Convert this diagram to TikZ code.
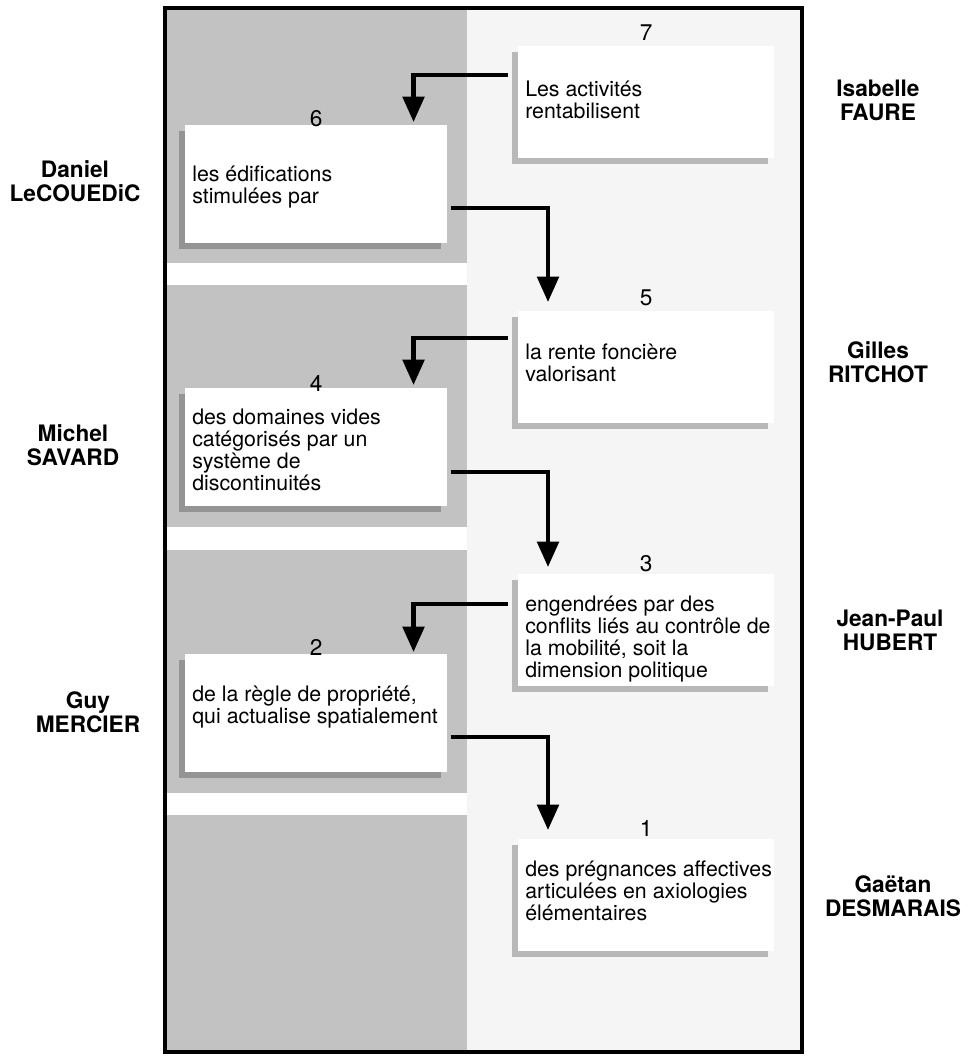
\documentclass[tikz,border=0pt]{standalone}
\usepackage{fontspec}
\setmainfont{TeX Gyre Heros}
\usetikzlibrary{calc,positioning,arrows.meta,shadows}

\begin{document}
\begin{tikzpicture}[x=0.75pt,y=-0.75pt,>={Triangle[width=16pt,length=19pt]},
    band/.style={fill=black!24},
    lbox/.style={anchor=north west,fill=white,minimum width=196.5pt,minimum height=88.5pt,inner sep=0,
      drop shadow={shadow xshift=-4.5pt,shadow yshift=-4.5pt,fill=black!42,opacity=1}},
    rbox/.style={anchor=north west,fill=white,minimum width=192pt,minimum height=84pt,inner sep=0,
      drop shadow={shadow xshift=-4.5pt,shadow yshift=-4.5pt,fill=black!28,opacity=1}},
    txt/.style={anchor=north west,align=left,inner sep=0,font=\fontsize{16}{16.5}\selectfont},
    num/.style={anchor=base,inner sep=0,font=\fontsize{17}{18}\selectfont},
    who/.style={align=center,inner sep=0,font=\bfseries\fontsize{17}{18}\selectfont},
    flow/.style={->,line width=3.2pt}]
  \useasboundingbox (0,0) rectangle (967,1056);
  \fill[black!4] (467,8) rectangle (802,1052);
  \fill[band] (165,8) rectangle (467,263);
  \fill[band] (165,285) rectangle (467,527);
  \fill[band] (165,550) rectangle (467,793);
  \fill[band] (165,815) rectangle (467,1052);

  \node[rbox] (b7) at (518,46) {};
  \node[lbox] (b6) at (185,125) {};
  \node[rbox] (b5) at (518,311) {};
  \node[lbox] (b4) at (185,388) {};
  \node[rbox] (b3) at (518,574) {};
  \node[lbox] (b2) at (185,654) {};
  \node[rbox] (b1) at (518,839) {};

  \node[num] (n7) at ($(b7.north)+(0,-5)$) {7};
  \node[num] (n6) at ($(b6.north)+(0,1)$) {6};
  \node[num] (n5) at ($(b5.north)+(0,-6)$) {5};
  \node[num] (n4) at ($(b4.north)+(0,3)$) {4};
  \node[num] (n3) at ($(b3.north)+(0,-3)$) {3};
  \node[num] (n2) at ($(b2.north)+(0,1)$) {2};
  \node[num] (n1) at ($(b1.north)+(0,-3)$) {1};

  \node[txt] (t7) at ($(b7.north west)+(7,35)$) {Les activités\\rentabilisent};
  \node[txt] (t6) at ($(b6.north west)+(7,41)$) {les édifications\\stimulées par};
  \node[txt] (t5) at ($(b5.north west)+(7,33)$) {la rente foncière\\valorisant};
  \node[txt] (t4) at ($(b4.north west)+(7,21)$) {des domaines vides\\catégorisés par un\\système de\\discontinuités};
  \node[txt] (t3) at ($(b3.north west)+(7,22)$) {engendrées par des\\conflits liés au contrôle de\\la mobilité, soit la\\dimension politique};
  \node[txt] (t2) at ($(b2.north west)+(7,32)$) {de la règle de propriété,\\qui actualise spatialement};
  \node[txt] (t1) at ($(b1.north west)+(7,22)$) {des prégnances affectives\\articulées en axiologies\\élémentaires};

  \draw[flow] ($(b7.north west)+(-10,29)$) -| ($(b6.north east)+(-34,-3)$);
  \draw[flow] ($(b6.north east)+(3,83)$) -| ($(b5.north west)+(30,-9)$);
  \draw[flow] ($(b5.north west)+(-10,27)$) -| ($(b4.north east)+(-34,-3)$);
  \draw[flow] ($(b4.north east)+(3,84)$) -| ($(b3.north west)+(30,-7)$);
  \draw[flow] ($(b3.north west)+(-10,30)$) -| ($(b2.north east)+(-34,-2)$);
  \draw[flow] ($(b2.north east)+(3,83)$) -| ($(b1.north west)+(30,-9)$);

  \draw[line width=3.2pt] (165,8) rectangle (802,1052);

  \node[who] (isabelle) at (878,100) {Isabelle\\FAURE};
  \node[who] (gilles) at (878,362) {Gilles\\RITCHOT};
  \node[who] (jeanpaul) at (890,630) {Jean-Paul\\HUBERT};
  \node[who] (gaetan) at (893,896) {Gaëtan\\DESMARAIS};
  \node[who] (daniel) at (75,181) {Daniel\\LeCOUEDiC};
  \node[who] (michel) at (73,445) {Michel\\SAVARD};
  \node[who] (guy) at (88,712) {Guy\\MERCIER};
\end{tikzpicture}
\end{document}
